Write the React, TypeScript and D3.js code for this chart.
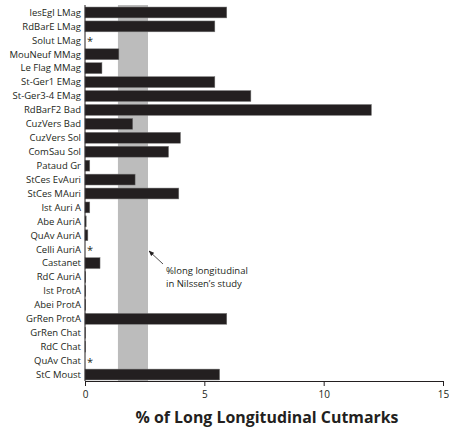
import * as d3 from 'd3'
import { useEffect, useRef } from 'react'

const sites = [
  'lesEgl LMag', 'RdBarE LMag', 'Solut LMag', 'MouNeuf MMag', 'Le Flag MMag',
  'St-Ger1 EMag', 'St-Ger3-4 EMag', 'RdBarF2 Bad', 'CuzVers Bad', 'CuzVers Sol',
  'ComSau Sol', 'Pataud Gr', 'StCes EvAuri', 'StCes MAuri', 'Ist Auri A',
  'Abe AuriA', 'QuAv AuriA', 'Celli AuriA', 'Castanet', 'RdC AuriA',
  'Ist ProtA', 'Abei ProtA', 'GrRen ProtA', 'GrRen Chat', 'RdC Chat',
  'QuAv Chat', 'StC Moust',
]
const pctLong = [
  5.94, 5.44, 0, 1.42, 0.71,
  5.44, 6.95, 12.0, 2.0, 4.0,
  3.5, 0.2, 2.1, 3.93, 0.2,
  0.05, 0.12, 0, 0.63, 0.03,
  0.03, 0.03, 5.94, 0.02, 0.02,
  0, 5.64,
]
const starred = ['Solut LMag', 'Celli AuriA', 'QuAv Chat']
const nilssenRange = [1.38, 2.64]
const xTicks = [0, 5, 10, 15]

const margin = { top: 5, right: 6, bottom: 48, left: 85 }
const W = 449
const H = 429

export default function App() {
  const ref = useRef<SVGSVGElement>(null)

  useEffect(() => {
    const svg = d3.select(ref.current)
    svg.selectAll('*').remove()
    const font = "'Open Sans', sans-serif"

    const x = d3.scaleLinear().domain([0, 15]).range([margin.left, 443])
    const y = d3
      .scaleBand()
      .domain(sites)
      .range([margin.top + 0.5, H - margin.bottom + 0.5])
      .paddingInner(0.22)
      .paddingOuter(0.11)

    const g = svg.append('g')

    // Nilssen band
    g.append('rect')
      .attr('x', x(nilssenRange[0]))
      .attr('y', margin.top)
      .attr('width', x(nilssenRange[1]) - x(nilssenRange[0]))
      .attr('height', H - margin.bottom - margin.top)
      .attr('fill', '#bcbcbc')

    // bars
    g.selectAll('rect.bar')
      .data(sites.map((s, i) => ({ s, v: pctLong[i] })))
      .enter()
      .append('rect')
      .attr('class', 'bar')
      .attr('x', x(0))
      .attr('y', (d) => y(d.s)!)
      .attr('width', (d) => x(d.v) - x(0))
      .attr('height', y.bandwidth())
      .attr('fill', '#231f20')
      .attr('stroke', '#777')
      .attr('stroke-width', (d) => (d.v > 0 ? 0.5 : 0))

    // asterisks
    g.selectAll('text.star')
      .data(starred)
      .enter()
      .append('text')
      .attr('x', x(0) + 2)
      .attr('y', (d) => y(d)! + y.bandwidth() / 2 + 5)
      .attr('font-family', font)
      .attr('font-size', 11)
      .attr('fill', '#231f20')
      .text('*')

    // y labels
    g.selectAll('text.lab')
      .data(sites)
      .enter()
      .append('text')
      .attr('x', x(0) - 4)
      .attr('y', (d) => y(d)! + y.bandwidth() / 2)
      .attr('dy', '0.35em')
      .attr('text-anchor', 'end')
      .attr('font-family', font)
      .attr('font-size', 9.5)
      .attr('fill', '#231f20')
      .text((d) => d)

    // y axis line
    g.append('line')
      .attr('x1', x(0)).attr('x2', x(0))
      .attr('y1', margin.top).attr('y2', H - margin.bottom)
      .attr('stroke', '#231f20')
      .attr('stroke-width', 1)

    // x axis
    const xAxis = d3.axisBottom(x).tickValues(xTicks).tickSize(5).tickSizeOuter(0).tickPadding(5)
    const ax = g.append('g')
      .attr('transform', `translate(0, ${H - margin.bottom})`)
      .call(xAxis)
    ax.select('.domain').attr('stroke', '#231f20').attr('stroke-width', 1.2)
    ax.selectAll('line').attr('stroke', '#231f20')
    ax.selectAll('text')
      .attr('font-family', font)
      .attr('font-size', 10)
      .attr('fill', '#231f20')

    g.append('text')
      .attr('x', 267)
      .attr('y', 423)
      .attr('text-anchor', 'middle')
      .attr('font-family', font)
      .attr('font-weight', 'bold')
      .attr('font-size', 15.9)
      .attr('fill', '#231f20')
      .text('% of Long Longitudinal Cutmarks')

    // annotation
    g.append('defs')
      .append('marker')
      .attr('id', 'arr')
      .attr('viewBox', '0 0 10 10')
      .attr('refX', 9)
      .attr('refY', 5)
      .attr('markerWidth', 7)
      .attr('markerHeight', 7)
      .attr('orient', 'auto')
      .append('path')
      .attr('d', 'M0,1 L10,5 L0,9 z')
      .attr('fill', '#231f20')
    g.append('line')
      .attr('x1', 163).attr('y1', 264)
      .attr('x2', x(nilssenRange[1]) + 1).attr('y2', 251)
      .attr('stroke', '#231f20')
      .attr('stroke-width', 0.8)
      .attr('marker-end', 'url(#arr)')
    const ann = g.append('text')
      .attr('font-family', font)
      .attr('font-size', 9.5)
      .attr('fill', '#231f20')
    ann.append('tspan').attr('x', 166).attr('y', 274).text('%long longitudinal')
    ann.append('tspan').attr('x', 166).attr('y', 287).text('in Nilssen\u2019s study')
  }, [])

  return (
    <svg
      ref={ref}
      width={W}
      height={H}
      style={{ position: 'absolute', left: 0, top: 0, background: '#fff' }}
    />
  )
}
